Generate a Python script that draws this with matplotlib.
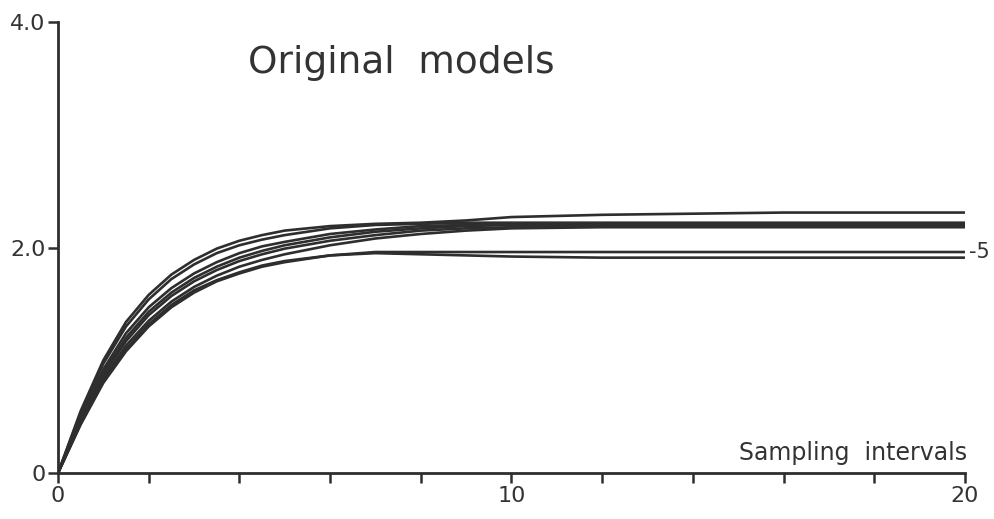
import matplotlib
matplotlib.use("Agg")
import matplotlib.pyplot as plt

# sampling instants
t = [0, 0.5, 1, 1.5, 2, 2.5, 3, 3.5, 4, 4.5, 5, 6, 7, 8, 9, 10, 12, 14, 16, 18, 20]

# step responses of the original models
model_a = [0, 0.55, 1.00, 1.34, 1.58, 1.76, 1.89, 1.99, 2.06, 2.11, 2.15, 2.19, 2.21, 2.22, 2.24, 2.27, 2.29, 2.30, 2.31, 2.31, 2.31]
model_b = [0, 0.53, 0.97, 1.30, 1.54, 1.72, 1.85, 1.95, 2.02, 2.07, 2.11, 2.17, 2.20, 2.21, 2.22, 2.22, 2.22, 2.22, 2.22, 2.22, 2.22]
model_c = [0, 0.50, 0.92, 1.24, 1.47, 1.64, 1.77, 1.87, 1.95, 2.01, 2.05, 2.12, 2.16, 2.19, 2.20, 2.21, 2.21, 2.21, 2.21, 2.21, 2.21]
model_f = [0, 0.48, 0.89, 1.20, 1.43, 1.60, 1.73, 1.83, 1.91, 1.97, 2.02, 2.09, 2.14, 2.17, 2.19, 2.20, 2.20, 2.20, 2.20, 2.20, 2.20]
model_d = [0, 0.47, 0.87, 1.17, 1.40, 1.57, 1.70, 1.80, 1.88, 1.94, 1.99, 2.06, 2.11, 2.15, 2.17, 2.18, 2.19, 2.19, 2.19, 2.19, 2.19]
model_e = [0, 0.45, 0.84, 1.13, 1.35, 1.52, 1.65, 1.75, 1.83, 1.89, 1.94, 2.02, 2.08, 2.12, 2.15, 2.17, 2.18, 2.18, 2.18, 2.18, 2.18]
model_g = [0, 0.44, 0.82, 1.10, 1.32, 1.49, 1.62, 1.71, 1.78, 1.84, 1.88, 1.93, 1.96, 1.96, 1.96, 1.96, 1.96, 1.96, 1.96, 1.96, 1.96]
model_h = [0, 0.43, 0.80, 1.08, 1.30, 1.47, 1.60, 1.70, 1.77, 1.83, 1.87, 1.93, 1.95, 1.94, 1.93, 1.92, 1.91, 1.91, 1.91, 1.91, 1.91]

models = [model_a, model_b, model_c, model_f, model_d, model_e, model_g, model_h]

x_ticks = [0, 2, 4, 6, 8, 10, 12, 14, 16, 18, 20]
x_tick_labels = ["0", "", "", "", "", "10", "", "", "", "", "20"]
y_ticks = [0, 2.0, 4.0]
y_tick_labels = ["0", "2.0", "4.0"]

title_text = "Original  models"
x_label_text = "Sampling  intervals"
curve_label = "-5"

ink = "#2e2e2e"
text_ink = "#333333"

fig = plt.figure(figsize=(9.95, 5.19), dpi=100)
ax = fig.add_axes([0.0583, 0.0886, 0.9115, 0.869])

for y in models:
    ax.plot(t, y, color=ink, lw=1.9, solid_capstyle="butt", solid_joinstyle="round")

ax.set_xlim(0, 20)
ax.set_ylim(0, 4.0)

for s in ["top", "right"]:
    ax.spines[s].set_visible(False)
for s in ["left", "bottom"]:
    ax.spines[s].set_color(ink)
    ax.spines[s].set_linewidth(2.0)

ax.set_xticks(x_ticks)
ax.set_xticklabels(x_tick_labels)
ax.set_yticks(y_ticks)
ax.set_yticklabels(y_tick_labels)
ax.tick_params(axis="both", direction="out", length=7, width=1.8, color=ink,
               labelsize=16, labelcolor=text_ink, pad=2)

ax.text(4.2, 3.64, title_text, fontsize=27, color=text_ink, va="center", ha="left")
ax.text(20.05, 0.07, x_label_text, fontsize=17, color=text_ink, va="bottom", ha="right")
ax.text(20.1, 1.96, curve_label, fontsize=15, color=text_ink, va="center", ha="left")

fig.savefig("out.png", dpi=100)
